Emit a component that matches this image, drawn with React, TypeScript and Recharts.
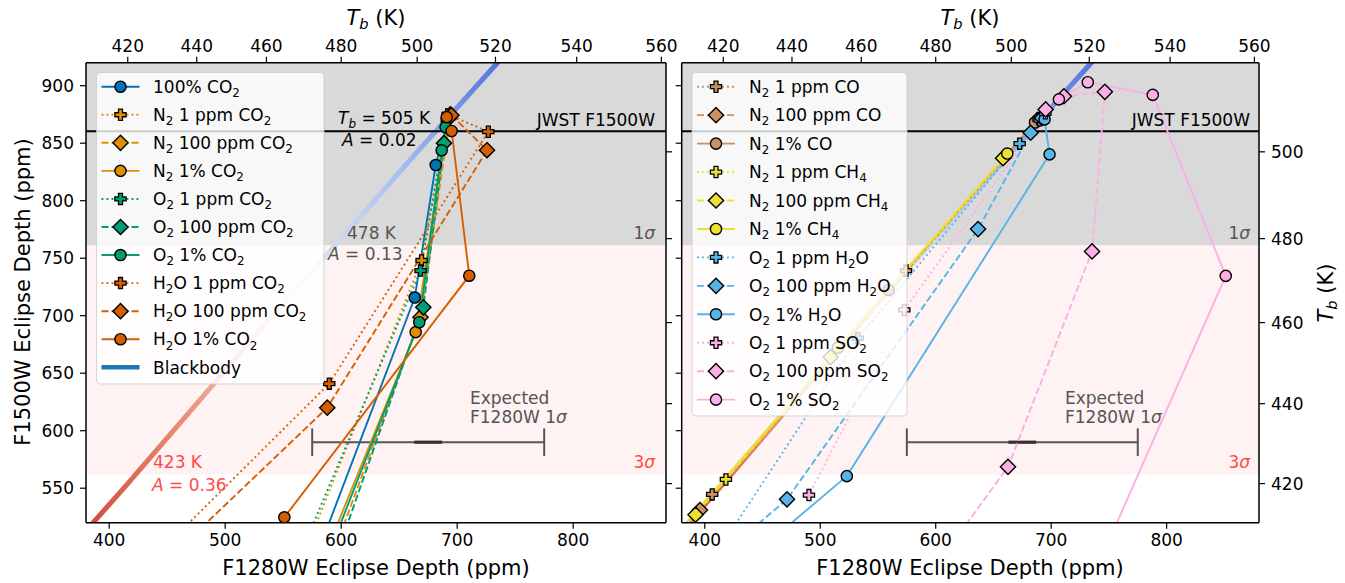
import React from 'react';
import { LineChart, Line, XAxis, YAxis, ReferenceArea, ReferenceLine } from 'recharts';

type Pt = [number, number];

// ---- axes ----
const X_DOMAIN: [number, number] = [380, 880];
const Y_DOMAIN: [number, number] = [520, 920];
const X_TICKS = [400, 500, 600, 700, 800];
const Y_TICKS = [550, 600, 650, 700, 750, 800, 850, 900];
const TB_TOP_LABELS = [420, 440, 460, 480, 500, 520, 540, 560];
const TB_TOP_POS = [416, 475.5, 535.5, 600, 665.5, 733, 803, 876];
const TB_RIGHT_LABELS = [420, 440, 460, 480, 500];
const TB_RIGHT_POS = [554, 623.5, 694, 767, 842.5];

// ---- reference values ----
const JWST_F1500W = 860.5;
const SIGMA = 99.5;
const ERR_CENTER = 675;
const ERR_HALF = 100;
const ERR_Y = 590;

// ---- blackbody ----
const BLACKBODY: Pt[] = [[380, 513], [416, 554], [475.5, 623.5], [535.5, 694], [600, 767], [665.5, 842.5], [733, 918], [740, 926]];

// ---- left panel series (F1280W, F1500W) ----
const CO2_100: Pt[] = [[693, 874], [681.5, 831], [663.4, 715.8], [570, 468]];
const N2_1PPM_CO2: Pt[] = [[692, 875], [669.3, 748], [555, 460]];
const N2_100PPM_CO2: Pt[] = [[694, 875], [668.4, 698.7], [581, 460]];
const N2_1PCT_CO2: Pt[] = [[692, 873], [664.2, 685.7], [573, 460]];
const O2_1PPM_CO2: Pt[] = [[691, 870], [668.4, 739.2], [551, 460]];
const O2_100PPM_CO2: Pt[] = [[693, 872], [688.6, 850], [670.8, 707.3], [585, 460]];
const O2_1PCT_CO2: Pt[] = [[690, 864], [686.6, 843.8], [667.3, 694.3], [576.5, 460]];
const H2O_1PPM_CO2: Pt[] = [[692, 875], [726.8, 860], [589.7, 640.9], [416, 467]];
const H2O_100PPM_CO2: Pt[] = [[695, 874.4], [725.7, 843.9], [588, 620], [432, 470]];
const H2O_1PCT_CO2: Pt[] = [[691, 872.7], [695.2, 860.6], [710.4, 734.8], [551, 524.7], [500, 458]];

// ---- right panel series ----
const N2_1PPM_CO: Pt[] = [[690, 872], [574.3, 739.2], [406.4, 544.6], [340, 468]];
const N2_100PPM_CO: Pt[] = [[688, 870], [395.8, 531], [350, 478]];
const N2_1PCT_CO: Pt[] = [[686, 868], [559.3, 722.4], [360, 492]];
const N2_1PPM_CH4: Pt[] = [[689, 871], [418.3, 557.6], [350, 478]];
const N2_100PPM_CH4: Pt[] = [[658.3, 837], [509, 664], [392, 527], [350, 478]];
const N2_1PCT_CH4: Pt[] = [[662, 841], [515.2, 672.1], [360, 492]];
const O2_1PPM_H2O: Pt[] = [[690, 870], [672.7, 849.6], [532.5, 680.5], [400, 478]];
const O2_100PPM_H2O: Pt[] = [[692, 872], [682.2, 859.1], [636.7, 775.3], [471.2, 540.3], [424, 500]];
const O2_1PCT_H2O: Pt[] = [[694.3, 870.7], [698.6, 840.3], [523, 560.5], [440, 490]];
const O2_1PPM_SO2: Pt[] = [[695, 876], [572.8, 705], [490.2, 544]];
const O2_100PPM_SO2: Pt[] = [[695.2, 879.4], [711, 890.8], [746.5, 894.7], [735.4, 755.9], [662.6, 568.6], [600, 482]];
const O2_1PCT_SO2: Pt[] = [[706.7, 888.1], [731.7, 903], [788, 892], [851.2, 734.6], [735, 470]];

const BLUE = '#0173b2', ORANGE = '#de8f05', GREEN = '#029e73', VERM = '#d55e00';
const TAN = '#ca9161', YELLOW = '#ece133', LBLUE = '#56b4e9', PINK = '#fbafe4';

type Series = { label: string; color: string; ls: 'dot' | 'dash' | 'solid'; mk: 'plus' | 'diamond' | 'circle'; pts: Pt[] };

const LEFT_SERIES: Series[] = [
  { label: '100% CO_2', color: BLUE, ls: 'solid', mk: 'circle', pts: CO2_100 },
  { label: 'N_2 1 ppm CO_2', color: ORANGE, ls: 'dot', mk: 'plus', pts: N2_1PPM_CO2 },
  { label: 'N_2 100 ppm CO_2', color: ORANGE, ls: 'dash', mk: 'diamond', pts: N2_100PPM_CO2 },
  { label: 'N_2 1% CO_2', color: ORANGE, ls: 'solid', mk: 'circle', pts: N2_1PCT_CO2 },
  { label: 'O_2 1 ppm CO_2', color: GREEN, ls: 'dot', mk: 'plus', pts: O2_1PPM_CO2 },
  { label: 'O_2 100 ppm CO_2', color: GREEN, ls: 'dash', mk: 'diamond', pts: O2_100PPM_CO2 },
  { label: 'O_2 1% CO_2', color: GREEN, ls: 'solid', mk: 'circle', pts: O2_1PCT_CO2 },
  { label: 'H_2O 1 ppm CO_2', color: VERM, ls: 'dot', mk: 'plus', pts: H2O_1PPM_CO2 },
  { label: 'H_2O 100 ppm CO_2', color: VERM, ls: 'dash', mk: 'diamond', pts: H2O_100PPM_CO2 },
  { label: 'H_2O 1% CO_2', color: VERM, ls: 'solid', mk: 'circle', pts: H2O_1PCT_CO2 },
];

const RIGHT_SERIES: Series[] = [
  { label: 'N_2 1 ppm CO', color: TAN, ls: 'dot', mk: 'plus', pts: N2_1PPM_CO },
  { label: 'N_2 100 ppm CO', color: TAN, ls: 'dash', mk: 'diamond', pts: N2_100PPM_CO },
  { label: 'N_2 1% CO', color: TAN, ls: 'solid', mk: 'circle', pts: N2_1PCT_CO },
  { label: 'N_2 1 ppm CH_4', color: YELLOW, ls: 'dot', mk: 'plus', pts: N2_1PPM_CH4 },
  { label: 'N_2 100 ppm CH_4', color: YELLOW, ls: 'dash', mk: 'diamond', pts: N2_100PPM_CH4 },
  { label: 'N_2 1% CH_4', color: YELLOW, ls: 'solid', mk: 'circle', pts: N2_1PCT_CH4 },
  { label: 'O_2 1 ppm H_2O', color: LBLUE, ls: 'dot', mk: 'plus', pts: O2_1PPM_H2O },
  { label: 'O_2 100 ppm H_2O', color: LBLUE, ls: 'dash', mk: 'diamond', pts: O2_100PPM_H2O },
  { label: 'O_2 1% H_2O', color: LBLUE, ls: 'solid', mk: 'circle', pts: O2_1PCT_H2O },
  { label: 'O_2 1 ppm SO_2', color: PINK, ls: 'dot', mk: 'plus', pts: O2_1PPM_SO2 },
  { label: 'O_2 100 ppm SO_2', color: PINK, ls: 'dash', mk: 'diamond', pts: O2_100PPM_SO2 },
  { label: 'O_2 1% SO_2', color: PINK, ls: 'solid', mk: 'circle', pts: O2_1PCT_SO2 },
];

const FONT = "'DejaVu Sans', sans-serif";
const FS = 17;
const LW = 1.9;
const dashFor = (ls: string) => (ls === 'dot' ? '1.9 3.1' : ls === 'dash' ? '7 3' : undefined);

function Marker({ kind, cx, cy, color }: { kind: string; cx: number; cy: number; color: string }) {
  if (cx == null || cy == null || isNaN(cx) || isNaN(cy)) return <g />;
  if (kind === 'circle') return <circle cx={cx} cy={cy} r={5.6} fill={color} stroke="#000" strokeWidth={1.4} />;
  if (kind === 'diamond') {
    const d = 7.6;
    return <polygon points={`${cx},${cy - d} ${cx + d},${cy} ${cx},${cy + d} ${cx - d},${cy}`} fill={color} stroke="#000" strokeWidth={1.4} />;
  }
  const a = 5.6, w = 2.0;
  const p = [
    [cx - w, cy - a], [cx + w, cy - a], [cx + w, cy - w], [cx + a, cy - w], [cx + a, cy + w], [cx + w, cy + w],
    [cx + w, cy + a], [cx - w, cy + a], [cx - w, cy + w], [cx - a, cy + w], [cx - a, cy - w], [cx - w, cy - w],
  ].map((q) => q.join(',')).join(' ');
  return <polygon points={p} fill={color} stroke="#000" strokeWidth={1.3} />;
}

function Rich({ s, x, y, fs = FS, anchor = 'start', fill = '#000', italicFirst = false, ...rest }: any) {
  const toks: { t: string; sub: boolean }[] = [];
  let buf = '';
  for (let i = 0; i < s.length; i++) {
    if (s[i] === '_' && i + 1 < s.length) {
      if (buf) toks.push({ t: buf, sub: false });
      buf = '';
      toks.push({ t: s[i + 1], sub: true });
      i++;
    } else buf += s[i];
  }
  if (buf) toks.push({ t: buf, sub: false });
  const sh = fs * 0.24;
  let prev = false;
  return (
    <text x={x} y={y} fontSize={fs} fontFamily={FONT} textAnchor={anchor} fill={fill} style={{ whiteSpace: 'pre' }} {...rest}>
      {toks.map((tk, i) => {
        const dy = (tk.sub ? sh : 0) - (prev ? sh : 0);
        prev = tk.sub;
        return (
          <tspan key={i} dy={dy} fontSize={tk.sub ? fs * 0.7 : fs} fontStyle={italicFirst && i < 2 ? 'italic' : undefined}>
            {tk.t}
          </tspan>
        );
      })}
    </text>
  );
}

function Panel({ series, plotLeft, plotRight, showLeftLabels, showRightLabels, gid }: any) {
  const topH = 40, botH = 40, yW = 50;
  const margin = { top: 62.7 - topH, bottom: 583 - 522.7 - botH, left: plotLeft - yW, right: 1345 - plotRight - yW };
  const axisStroke = { stroke: '#000', strokeWidth: 1.5 };
  const tickStyle = { fontSize: FS, fill: '#000', fontFamily: FONT };
  return (
    <LineChart width={1345} height={583} margin={margin} style={{ position: 'absolute', left: 0, top: 0 }}>
      <defs>
        <linearGradient id={gid} x1="0" y1="1" x2="1" y2="0">
          <stop offset="0" stopColor="#cf4a3f" />
          <stop offset="0.22" stopColor="#ea8a72" />
          <stop offset="0.5" stopColor="#ececec" />
          <stop offset="0.75" stopColor="#a7c0f2" />
          <stop offset="1" stopColor="#4f70dc" />
        </linearGradient>
      </defs>
      <XAxis xAxisId="b" dataKey="x" type="number" domain={X_DOMAIN} ticks={X_TICKS} allowDataOverflow height={botH}
        axisLine={axisStroke} tickLine={{ stroke: '#000', strokeWidth: 1.2 }} tickSize={6} tickMargin={5} tick={tickStyle} interval={0} />
      <XAxis xAxisId="t" orientation="top" dataKey="x" type="number" domain={X_DOMAIN} ticks={TB_TOP_POS} allowDataOverflow height={topH}
        axisLine={axisStroke} tickLine={{ stroke: '#000', strokeWidth: 1.2 }} tickSize={6} tickMargin={5} tick={tickStyle} interval={0}
        tickFormatter={(_v: any, i: number) => String(TB_TOP_LABELS[i])} />
      <YAxis yAxisId="l" type="number" domain={Y_DOMAIN} ticks={Y_TICKS} allowDataOverflow width={yW}
        axisLine={axisStroke} tickLine={{ stroke: '#000', strokeWidth: 1.2 }} tickSize={6} tickMargin={6} tick={tickStyle} interval={0}
        tickFormatter={(v: any) => (showLeftLabels ? String(v) : '')} />
      <YAxis yAxisId="r" orientation="right" type="number" domain={Y_DOMAIN} ticks={TB_RIGHT_POS} allowDataOverflow width={yW}
        axisLine={axisStroke} tickLine={{ stroke: '#000', strokeWidth: 1.2 }} tickSize={6} tickMargin={6} tick={tickStyle} interval={0}
        tickFormatter={(_v: any, i: number) => (showRightLabels ? String(TB_RIGHT_LABELS[i]) : '')} />

      <ReferenceArea xAxisId="b" yAxisId="l" x1={X_DOMAIN[0]} x2={X_DOMAIN[1]} y1={JWST_F1500W - SIGMA} y2={Y_DOMAIN[1]} fill="#d9d9d9" fillOpacity={1} stroke="none" />
      <ReferenceArea xAxisId="b" yAxisId="l" x1={X_DOMAIN[0]} x2={X_DOMAIN[1]} y1={JWST_F1500W - 3 * SIGMA} y2={JWST_F1500W - SIGMA} fill="#fef2f2" fillOpacity={1} stroke="none" />

      <Line xAxisId="b" yAxisId="l" data={BLACKBODY.map(([x, y]) => ({ x, y }))} dataKey="y" stroke={`url(#${gid})`} strokeWidth={5}
        dot={false} activeDot={false} isAnimationActive={false} legendType="none" />

      <ReferenceLine xAxisId="b" yAxisId="l" y={JWST_F1500W} stroke="#000" strokeWidth={2} />

      <ReferenceLine xAxisId="b" yAxisId="l" segment={[{ x: ERR_CENTER - ERR_HALF, y: ERR_Y }, { x: ERR_CENTER + ERR_HALF, y: ERR_Y }]} stroke="#555" strokeWidth={2} />
      <ReferenceLine xAxisId="b" yAxisId="l" segment={[{ x: ERR_CENTER - ERR_HALF, y: ERR_Y - 12 }, { x: ERR_CENTER - ERR_HALF, y: ERR_Y + 12 }]} stroke="#555" strokeWidth={2} />
      <ReferenceLine xAxisId="b" yAxisId="l" segment={[{ x: ERR_CENTER + ERR_HALF, y: ERR_Y - 12 }, { x: ERR_CENTER + ERR_HALF, y: ERR_Y + 12 }]} stroke="#555" strokeWidth={2} />
      <ReferenceLine xAxisId="b" yAxisId="l" segment={[{ x: ERR_CENTER - 12, y: ERR_Y }, { x: ERR_CENTER + 12, y: ERR_Y }]} stroke="#333" strokeWidth={3.2} />

      {series.map((s: Series, k: number) => (
        <Line key={k} xAxisId="b" yAxisId="l" data={s.pts.map(([x, y]) => ({ x, y }))} dataKey="y" stroke={s.color}
          strokeWidth={LW} strokeDasharray={dashFor(s.ls)} isAnimationActive={false} activeDot={false} legendType="none"
          dot={(p: any) => <Marker key={`m${k}-${p.index}`} kind={s.mk} cx={p.cx} cy={p.cy} color={s.color} />} />
      ))}
    </LineChart>
  );
}

function LegendBox({ series, x, y, w, h, rowY0, pitch, handleX0, textX, extraBlackbody }: any) {
  const rows = series.map((s: Series, i: number) => {
    const cy = rowY0 + i * pitch;
    return (
      <g key={i}>
        <line x1={handleX0} x2={handleX0 + 38} y1={cy} y2={cy} stroke={s.color} strokeWidth={LW} strokeDasharray={dashFor(s.ls)} />
        <Marker kind={s.mk} cx={handleX0 + 19} cy={cy} color={s.color} />
        <Rich s={s.label} x={textX} y={cy + 6.2} />
      </g>
    );
  });
  const n = series.length;
  return (
    <g>
      <rect x={x} y={y} width={w} height={h} rx={4} fill="#fff" fillOpacity={0.8} stroke="#cccccc" strokeOpacity={0.8} strokeWidth={1} />
      {rows}
      {extraBlackbody && (
        <g>
          <line x1={handleX0} x2={handleX0 + 38} y1={rowY0 + n * pitch} y2={rowY0 + n * pitch} stroke="#1f77b4" strokeWidth={4.5} />
          <Rich s="Blackbody" x={textX} y={rowY0 + n * pitch + 6.2} />
        </g>
      )}
    </g>
  );
}

function TbLabel({ x, y, rotate }: any) {
  return (
    <text x={x} y={y} fontSize={21} fontFamily={FONT} textAnchor="middle" dominantBaseline="central"
      transform={rotate ? `rotate(-90 ${x} ${y})` : undefined} style={{ whiteSpace: 'pre' }}>
      <tspan fontStyle="italic">T</tspan>
      <tspan fontStyle="italic" fontSize={14.7} dy={5}>b</tspan>
      <tspan dy={-5}> (K)</tspan>
    </text>
  );
}

function Overlay() {
  const gray = '#555555';
  const red = '#ff4a4a';
  return (
    <svg width={1345} height={583} style={{ position: 'absolute', left: 0, top: 0, pointerEvents: 'none' }}>
      {/* axis titles */}
      <TbLabel x={376} y={18} />
      <TbLabel x={970} y={18} />
      <TbLabel x={1326} y={293} rotate />
      <text x={376} y={568} fontSize={21} fontFamily={FONT} textAnchor="middle" dominantBaseline="central">F1280W Eclipse Depth (ppm)</text>
      <text x={970} y={568} fontSize={21} fontFamily={FONT} textAnchor="middle" dominantBaseline="central">F1280W Eclipse Depth (ppm)</text>
      <text x={23} y={292} fontSize={21} fontFamily={FONT} textAnchor="middle" dominantBaseline="central" transform="rotate(-90 23 292)">F1500W Eclipse Depth (ppm)</text>

      {/* left annotations */}
      <text x={338} y={124} fontSize={FS} fontFamily={FONT} style={{ whiteSpace: 'pre' }}>
        <tspan fontStyle="italic">T</tspan><tspan fontStyle="italic" fontSize={12} dy={4}>b</tspan><tspan dy={-4}> = 505 K</tspan>
      </text>
      <text x={342} y={146} fontSize={FS} fontFamily={FONT} style={{ whiteSpace: 'pre' }}>
        <tspan fontStyle="italic">A</tspan><tspan> = 0.02</tspan>
      </text>
      <text x={347} y={239} fontSize={FS} fontFamily={FONT} fill={gray}>478 K</text>
      <text x={328} y={260} fontSize={FS} fontFamily={FONT} fill={gray} style={{ whiteSpace: 'pre' }}>
        <tspan fontStyle="italic">A</tspan><tspan> = 0.13</tspan>
      </text>
      <text x={153} y={468} fontSize={FS} fontFamily={FONT} fill={red}>423 K</text>
      <text x={152} y={491} fontSize={FS} fontFamily={FONT} fill={red} style={{ whiteSpace: 'pre' }}>
        <tspan fontStyle="italic">A</tspan><tspan> = 0.36</tspan>
      </text>

      {[{ r: 655, ex: 470 }, { r: 1250, ex: 1065 }].map((p, i) => (
        <g key={i}>
          <text x={p.r} y={126} fontSize={FS} fontFamily={FONT} textAnchor="end">JWST F1500W</text>
          <text x={p.r} y={239} fontSize={FS} fontFamily={FONT} textAnchor="end" fill={gray}>1<tspan fontStyle="italic">σ</tspan></text>
          <text x={p.r} y={468} fontSize={FS} fontFamily={FONT} textAnchor="end" fill={red}>3<tspan fontStyle="italic">σ</tspan></text>
          <text x={p.ex} y={404} fontSize={FS} fontFamily={FONT} fill={gray}>Expected</text>
          <text x={p.ex} y={423} fontSize={FS} fontFamily={FONT} fill={gray}>F1280W 1<tspan fontStyle="italic">σ</tspan></text>
        </g>
      ))}

      <LegendBox series={LEFT_SERIES} x={96.5} y={72.5} w={227.5} h={311.5} rowY0={86.7} pitch={28.06} handleX0={101.5} textX={153} extraBlackbody />
      <LegendBox series={RIGHT_SERIES} x={692} y={72.5} w={215} h={343.5} rowY0={86.7} pitch={28.45} handleX0={697} textX={749} />
    </svg>
  );
}

export default function App() {
  return (
    <div style={{ position: 'absolute', left: 0, top: 0, width: 1345, height: 583, background: '#fff', fontFamily: FONT }}>
      <Panel series={LEFT_SERIES} plotLeft={86} plotRight={666} showLeftLabels showRightLabels={false} gid="bbL" />
      <Panel series={RIGHT_SERIES} plotLeft={681.7} plotRight={1259} showLeftLabels={false} showRightLabels gid="bbR" />
      <Overlay />
    </div>
  );
}
